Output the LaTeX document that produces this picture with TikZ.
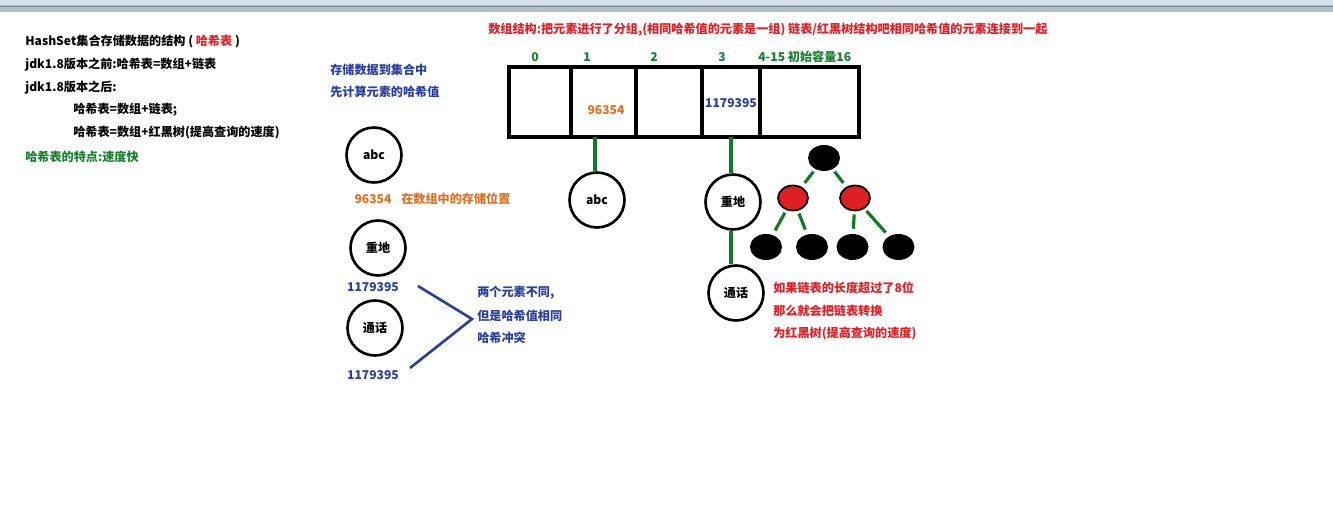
\documentclass[tikz,border=0pt]{standalone}
\usepackage{fontspec}
\setmainfont{Noto Sans CJK SC}
\usepackage{xcolor}
\usepackage{tikz}
\usetikzlibrary{shapes.geometric}
\definecolor{hred}{RGB}{222,32,38}
\definecolor{horange}{RGB}{226,112,34}
\definecolor{hblue}{RGB}{40,62,160}
\definecolor{hgreen}{RGB}{22,128,44}
\definecolor{lgreen}{RGB}{16,122,36}
\definecolor{barblue}{RGB}{212,224,236}
\definecolor{bargray}{RGB}{178,192,206}
\definecolor{bardark}{RGB}{118,132,148}

\begin{document}
\begin{tikzpicture}[x=0.02cm,y=-0.02cm,
    txt/.style={anchor=west,inner sep=0,font=\fontsize{6.9}{8}\selectfont\bfseries},
    mid/.style={txt,anchor=center},
    elem/.style={circle,draw,line width=1.5pt,minimum size=1.1cm,inner sep=0,font=\fontsize{6.9}{8}\selectfont\bfseries},
    cell/.style={draw,line width=1.8pt,minimum height=1.4cm,inner sep=0,outer sep=0},
    link/.style={draw=lgreen,line width=2pt},
    clash/.style={draw=hblue,line width=1.5pt},
    blk/.style={ellipse,fill=black,minimum width=0.64cm,minimum height=0.52cm,inner sep=0},
    rd/.style={ellipse,fill=hred,draw=black,line width=1pt,minimum width=0.6cm,minimum height=0.5cm,inner sep=0},
    level 1/.style={sibling distance=1.24cm,level distance=0.8cm},
    level 2/.style={sibling distance=0.92cm,level distance=0.98cm},
    edge from parent/.style={draw=lgreen,line width=1.8pt,shorten <=1.7pt,shorten >=2.8pt}]
    \useasboundingbox (0,0) rectangle (1333,520);
    \fill[barblue] (0,0) rectangle (1333,5);
    \fill[bargray] (0,5) rectangle (1333,12);
    \draw[bardark] (0,6) -- (1333,6);

    \node[txt] (t1) at (25,42) {HashSet集合存储数据的结构 ( {\color{hred}哈希表} )};
    \node[txt] (t2) at (25,65) {jdk1.8版本之前:哈希表=数组+链表};
    \node[txt] (t3) at (25,88) {jdk1.8版本之后:};
    \node[txt] (t4) at (73,110) {哈希表=数组+链表;};
    \node[txt] (t5) at (73,133) {哈希表=数组+红黑树(提高查询的速度)};
    \node[txt,text=hgreen] (t6) at (25,157) {哈希表的特点:速度快};

    \node[txt,text=hred] (head) at (488,30) {数组结构:把元素进行了分组,(相同哈希值的元素是一组) 链表/红黑树结构吧相同哈希值的元素连接到一起};
    \node[txt,text=hblue] (s1) at (330,70) {存储数据到集合中};
    \node[txt,text=hblue] (s2) at (330,92) {先计算元素的哈希值};

    \node[cell,minimum width=1.24cm] (c0) at (540,102) {};
    \node[cell,minimum width=1.3cm] (c1) at (603.5,102) {};
    \node[cell,minimum width=1.32cm] (c2) at (669,102) {};
    \node[cell,minimum width=1.16cm] (c3) at (731,102) {};
    \node[cell,minimum width=1.98cm] (c4) at (809.5,102) {};
    \node[mid,text=hgreen] (i0) at (535,57) {0};
    \node[mid,text=hgreen] (i1) at (587,57) {1};
    \node[mid,text=hgreen] (i2) at (654,57) {2};
    \node[mid,text=hgreen] (i3) at (722,57) {3};
    \node[txt,text=hgreen] (i4) at (758,57) {4-15 初始容量16};
    \node[mid,text=horange] (v1) at (606,110) {96354};
    \node[mid,text=hblue] (v3) at (731,103) {1179395};

    \node[elem] (abc1) at (374,155) {abc};
    \node[mid,text=horange] (h1) at (373,199) {96354};
    \node[txt,text=horange] (h1t) at (401,199) {在数组中的存储位置};
    \node[elem] (zd1) at (378,248) {重地};
    \node[mid,text=hblue] (h2) at (373,287) {1179395};
    \node[elem] (th1) at (375,328) {通话};
    \node[mid,text=hblue] (h3) at (373,375) {1179395};
    \coordinate (a1) at (418,286);
    \coordinate (a2) at (410,368);
    \coordinate (meet) at (472,319);
    \draw[clash] (a1) -- (meet) -- (a2);
    \node[txt,text=hblue] (k1) at (477,293) {两个元素不同,};
    \node[txt,text=hblue] (k2) at (477,316) {但是哈希值相同};
    \node[txt,text=hblue] (k3) at (477,338) {哈希冲突};

    \node[elem] (abc2) at (597,200) {abc};
    \draw[link] (c1.south -| 595,0) -- (595,0 |- abc2.north);
    \node[elem] (zd2) at (733,202) {重地};
    \node[elem] (th2) at (736,293) {通话};
    \draw[link] (c3.south) -- (c3.south |- zd2.north);
    \draw[link] (zd2.south -| c3.south) -- (th2.north -| c3.south);

    \node[blk] (rb) at (824,158) {}
        child {node[rd] (rbl) {}
            child[xshift=-0.08cm] {node[blk] (rbl1) {}}
            child[xshift=-0.08cm] {node[blk] (rbl2) {}}}
        child {node[rd] (rbr) {}
            child[xshift=0.41cm] {node[blk] (rbr1) {}}
            child[xshift=0.41cm] {node[blk] (rbr2) {}}};

    \node[txt,text=hred] (r1) at (773,288) {如果链表的长度超过了8位};
    \node[txt,text=hred] (r2) at (773,311) {那么就会把链表转换};
    \node[txt,text=hred] (r3) at (773,334) {为红黑树(提高查询的速度)};
\end{tikzpicture}
\end{document}
